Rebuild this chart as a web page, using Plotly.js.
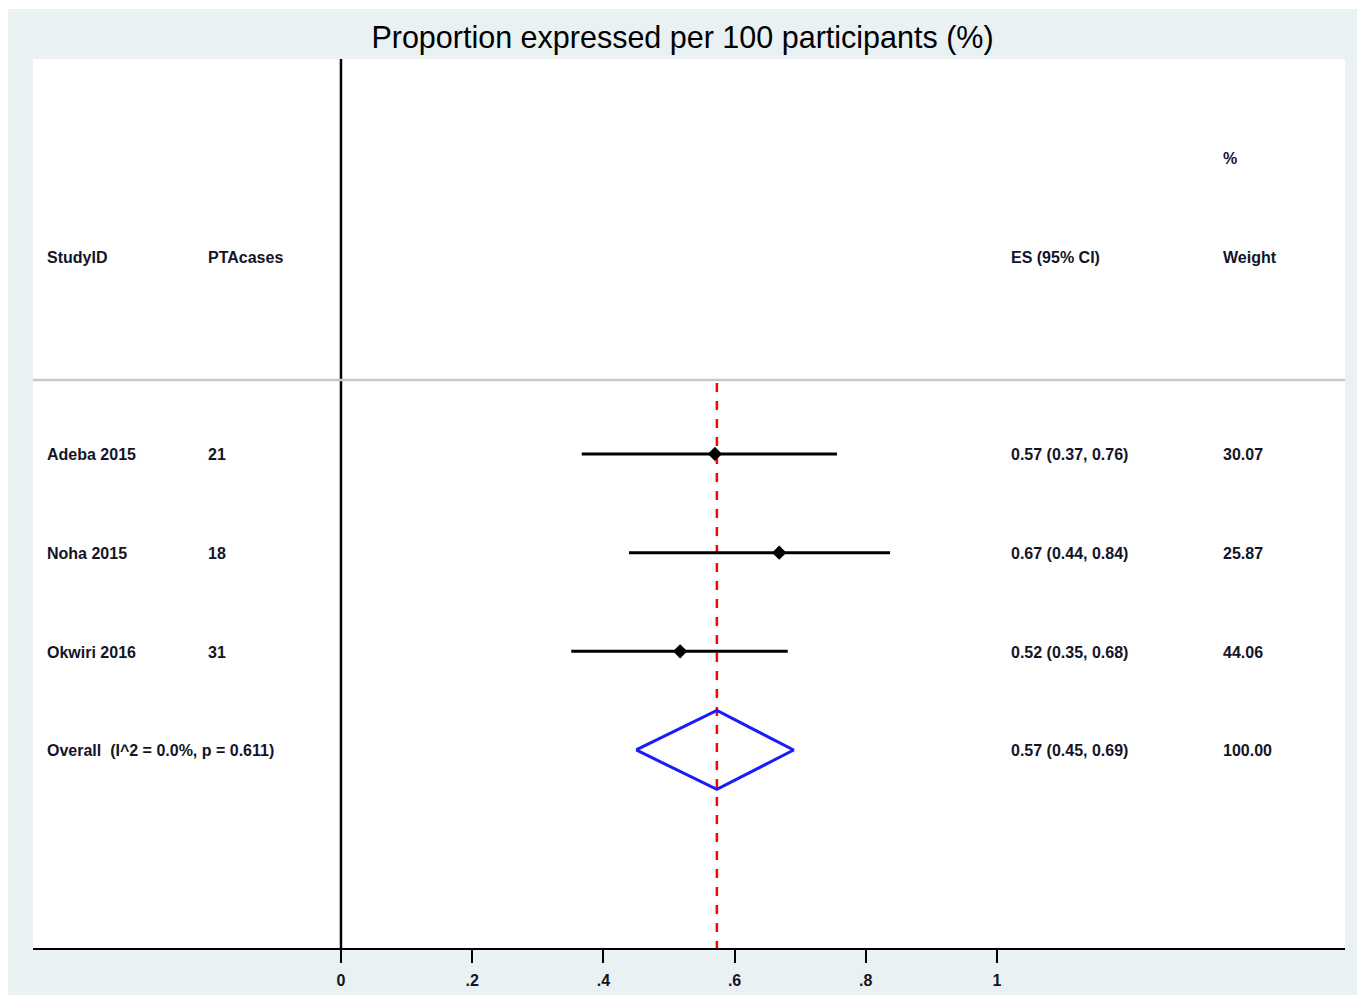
<!DOCTYPE html>
<html>
<head>
<meta charset="utf-8">
<script src="https://cdn.plot.ly/plotly-3.0.1.min.js"></script>
<style>
html,body{margin:0;padding:0;background:#ffffff;}
#chart{position:absolute;left:8px;top:9px;width:1349px;height:986px;}
</style>
</head>
<body>
<div id="chart"></div>
<script>
// ---- data ----
const studies = ["Adeba 2015", "Noha 2015", "Okwiri 2016"];
const ptaCases = ["21", "18", "31"];
const es = [0.57, 0.668, 0.517];
const ciLow = [0.367, 0.439, 0.351];
const ciHigh = [0.756, 0.837, 0.681];
const esText = ["0.57 (0.37, 0.76)", "0.67 (0.44, 0.84)", "0.52 (0.35, 0.68)"];
const weights = ["30.07", "25.87", "44.06"];
const overallLabel = "Overall  (I^2 = 0.0%, p = 0.611)";
const overallES = 0.573;
const overallLow = 0.45;
const overallHigh = 0.69;
const overallText = "0.57 (0.45, 0.69)";
const overallWeight = "100.00";
const tickVals = [0, 0.2, 0.4, 0.6, 0.8, 1];
const tickText = ["0", ".2", ".4", ".6", ".8", "1"];
const headers = {study: "StudyID", cases: "PTAcases", es: "ES (95% CI)", pct: "%", weight: "Weight"};
const titleText = "Proportion expressed per 100 participants (%)";

// ---- build ----
const FONT = "'Liberation Sans', Arial, sans-serif";
const rows = studies.map((s, i) => i + 1);
const overallRow = studies.length + 1;

const ciX = [], ciY = [];
rows.forEach((r, i) => { ciX.push(ciLow[i], ciHigh[i], null); ciY.push(r, r, null); });

const traces = [
  {type: "scatter", mode: "lines", x: ciX, y: ciY, line: {color: "#000000", width: 3}, hoverinfo: "skip"},
  {type: "scatter", mode: "markers", x: es, y: rows, marker: {symbol: "diamond", size: 11, color: "#000000"}, hoverinfo: "skip"},
  {type: "scatter", mode: "lines",
   x: [overallLow, overallES, overallHigh, overallES, overallLow],
   y: [overallRow, overallRow - 0.4, overallRow, overallRow + 0.4, overallRow],
   line: {color: "#1a1aff", width: 3}, hoverinfo: "skip"}
];

const colX = {study: -0.448, cases: -0.2027, es: 1.0213, weight: 1.3445};
const annFont = {family: FONT, size: 16, color: "#141428", weight: "bold"};
const ann = [];
function addText(x, y, t) {
  ann.push({x: x, y: y, xref: "x", yref: "y", text: t, showarrow: false, xanchor: "left", yanchor: "middle", xshift: -2, yshift: -1, font: annFont});
}
addText(colX.study, -1, headers.study);
addText(colX.cases, -1, headers.cases);
addText(colX.es, -1, headers.es);
addText(colX.weight, -1, headers.weight);
addText(colX.weight, -2, headers.pct);
rows.forEach((r, i) => {
  addText(colX.study, r, studies[i]);
  addText(colX.cases, r, ptaCases[i]);
  addText(colX.es, r, esText[i]);
  addText(colX.weight, r, weights[i]);
});
addText(colX.study, overallRow, overallLabel);
addText(colX.es, overallRow, overallText);
addText(colX.weight, overallRow, overallWeight);

const shapes = [
  {type: "line", xref: "x", yref: "y", x0: 0, x1: 0, y0: -3.003, y1: 6.007, line: {color: "#000000", width: 2.5}},
  {type: "line", xref: "paper", yref: "y", x0: 0, x1: 1, y0: 0.25, y1: 0.25, line: {color: "#c8c8c8", width: 2.5}},
  {type: "line", xref: "x", yref: "y", x0: overallES, x1: overallES, y0: 0.28, y1: 6.007, line: {color: "#ff0000", width: 2.5, dash: "dash"}, layer: "below"}
];

const layout = {
  width: 1349, height: 986,
  paper_bgcolor: "#e9f1f3",
  plot_bgcolor: "#ffffff",
  margin: {l: 25, r: 12, t: 50, b: 47},
  showlegend: false,
  title: {text: titleText, font: {family: FONT, size: 30.5, color: "#000000"}, x: 0.5, xanchor: "center", y: 1 - 28/986, yanchor: "middle", yref: "container"},
  xaxis: {range: [-0.4695, 1.5305], tickvals: tickVals, ticktext: tickText, showgrid: false, zeroline: false,
          showline: true, linecolor: "#000000", linewidth: 2, ticks: "outside", ticklen: 13, tickwidth: 2, tickcolor: "#000000",
          ticklabelstandoff: 4,
          tickfont: {family: FONT, size: 16, color: "#141428", weight: "bold"}, fixedrange: true},
  yaxis: {range: [6.007, -3.003], visible: false, showgrid: false, zeroline: false, fixedrange: true},
  annotations: ann,
  shapes: shapes
};

Plotly.newPlot("chart", traces, layout, {displayModeBar: false, staticPlot: true});
</script>
</body>
</html>
